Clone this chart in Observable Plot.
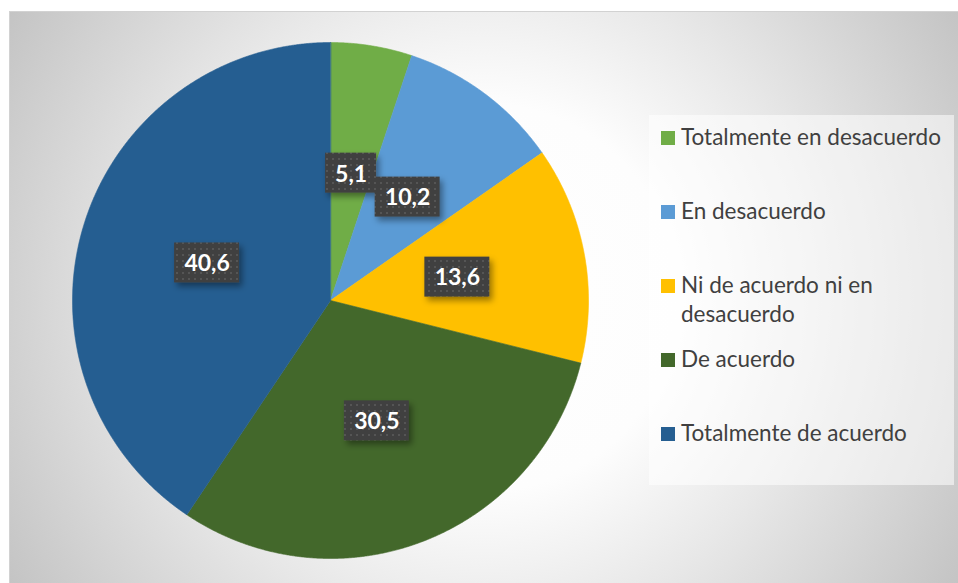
<!DOCTYPE html>
<html><head><meta charset="utf-8">
<script src="https://cdn.jsdelivr.net/npm/d3@7"></script>
<script src="https://cdn.jsdelivr.net/npm/@observablehq/plot@0.6"></script>
<style>
body{margin:0;background:#fff;}
#wrap{position:relative;width:958px;height:583px;overflow:hidden;font-family:Lato,"Open Sans",sans-serif;}
#bg{position:absolute;left:9px;top:11px;width:949px;height:572px;box-sizing:border-box;border-top:1px solid #d2d2d2;border-left:1px solid #d2d2d2;
background:radial-gradient(circle farthest-corner at 50% 50%, #ffffff 0%, #fdfdfd 35%, #e8e8e8 60%, #d6d6d6 80%, #c4c4c4 100%);}
#chart{position:absolute;left:0;top:0;}
#legend{position:absolute;left:649px;top:115px;width:305px;height:370px;background:rgba(255,255,255,0.55);}
.item{position:absolute;left:0;width:305px;}
.sw{position:absolute;left:12px;top:9px;width:14px;height:14px;}
.tx{position:absolute;left:32px;top:0;width:272px;font-size:22.5px;line-height:29px;color:#404040;}
</style>
</head><body>
<div id="wrap"><div id="bg"></div><div id="chart"></div><div id="legend"></div></div>
<script>
const categories = ["Totalmente en desacuerdo","En desacuerdo","Ni de acuerdo ni en desacuerdo","De acuerdo","Totalmente de acuerdo"];
const values = [5.1, 10.2, 13.6, 30.5, 40.6];
const valueLabels = ["5,1","10,2","13,6","30,5","40,6"];
const colors = ["#70ad47","#5b9bd5","#ffc000","#43682b","#255e91"];

const R = 258; // pie radius in px (1 data unit)
const arcs = d3.pie().sort(null).value(d => d)(values);

const pts = [];
arcs.forEach((a, i) => {
  pts.push({cat: categories[i], x: 0, y: 0});
  const n = Math.max(2, Math.ceil((a.endAngle - a.startAngle) / 0.004));
  for (let k = 0; k <= n; k++) {
    const t = a.startAngle + (a.endAngle - a.startAngle) * k / n;
    pts.push({cat: categories[i], x: Math.sin(t), y: Math.cos(t)});
  }
});

const labs = arcs.map((a, i) => {
  const m = (a.startAngle + a.endAngle) / 2;
  const cx = 0.5 * Math.sin(m), cy = 0.5 * Math.cos(m);
  const hw = (14 * valueLabels[i].length + 9) / 2 / R, hh = 20 / R;
  return {label: valueLabels[i], x: cx, y: cy, x1: cx - hw, x2: cx + hw, y1: cy - hh, y2: cy + hh};
});

const chart = Plot.plot({
  width: 958, height: 583, margin: 0,
  style: {background: "transparent"},
  x: {domain: [-1, 1], range: [330 - R, 330 + R], axis: null},
  y: {domain: [-1, 1], range: [300 + R, 300 - R], axis: null},
  color: {domain: categories, range: colors},
  marks: [
    Plot.line(pts, {x: "x", y: "y", z: "cat", fill: "cat", stroke: "cat", strokeWidth: 0.6, curve: "linear-closed"}),
    Plot.rect(labs, {x1: "x1", x2: "x2", y1: "y1", y2: "y2", fill: "url(#dots)"}),
    Plot.text(labs, {x: "x", y: "y", text: "label", fill: "white", fontSize: 23, fontWeight: "bold", fontFamily: "Lato", dy: 1})
  ]
});
document.getElementById("chart").appendChild(chart);

const svg = d3.select(chart);
svg.insert("defs", ":first-child").html(`
  <pattern id="dots" patternUnits="userSpaceOnUse" width="6" height="6">
    <rect width="6" height="6" fill="#404040"/>
    <rect x="2" y="2" width="2" height="2" fill="#545454"/>
  </pattern>
  <filter id="shadow" x="-30%" y="-30%" width="170%" height="180%">
    <feDropShadow dx="3" dy="4" stdDeviation="3" flood-color="#000" flood-opacity="0.4"/>
  </filter>`);
svg.selectAll("g[aria-label='rect']").attr("filter", "url(#shadow)");

const legend = d3.select("#legend");
categories.forEach((c, i) => {
  const it = legend.append("div").attr("class", "item").style("top", (7 + i * 74) + "px");
  it.append("div").attr("class", "sw").style("background", colors[i]);
  it.append("div").attr("class", "tx").text(c);
});
</script>
</body></html>
